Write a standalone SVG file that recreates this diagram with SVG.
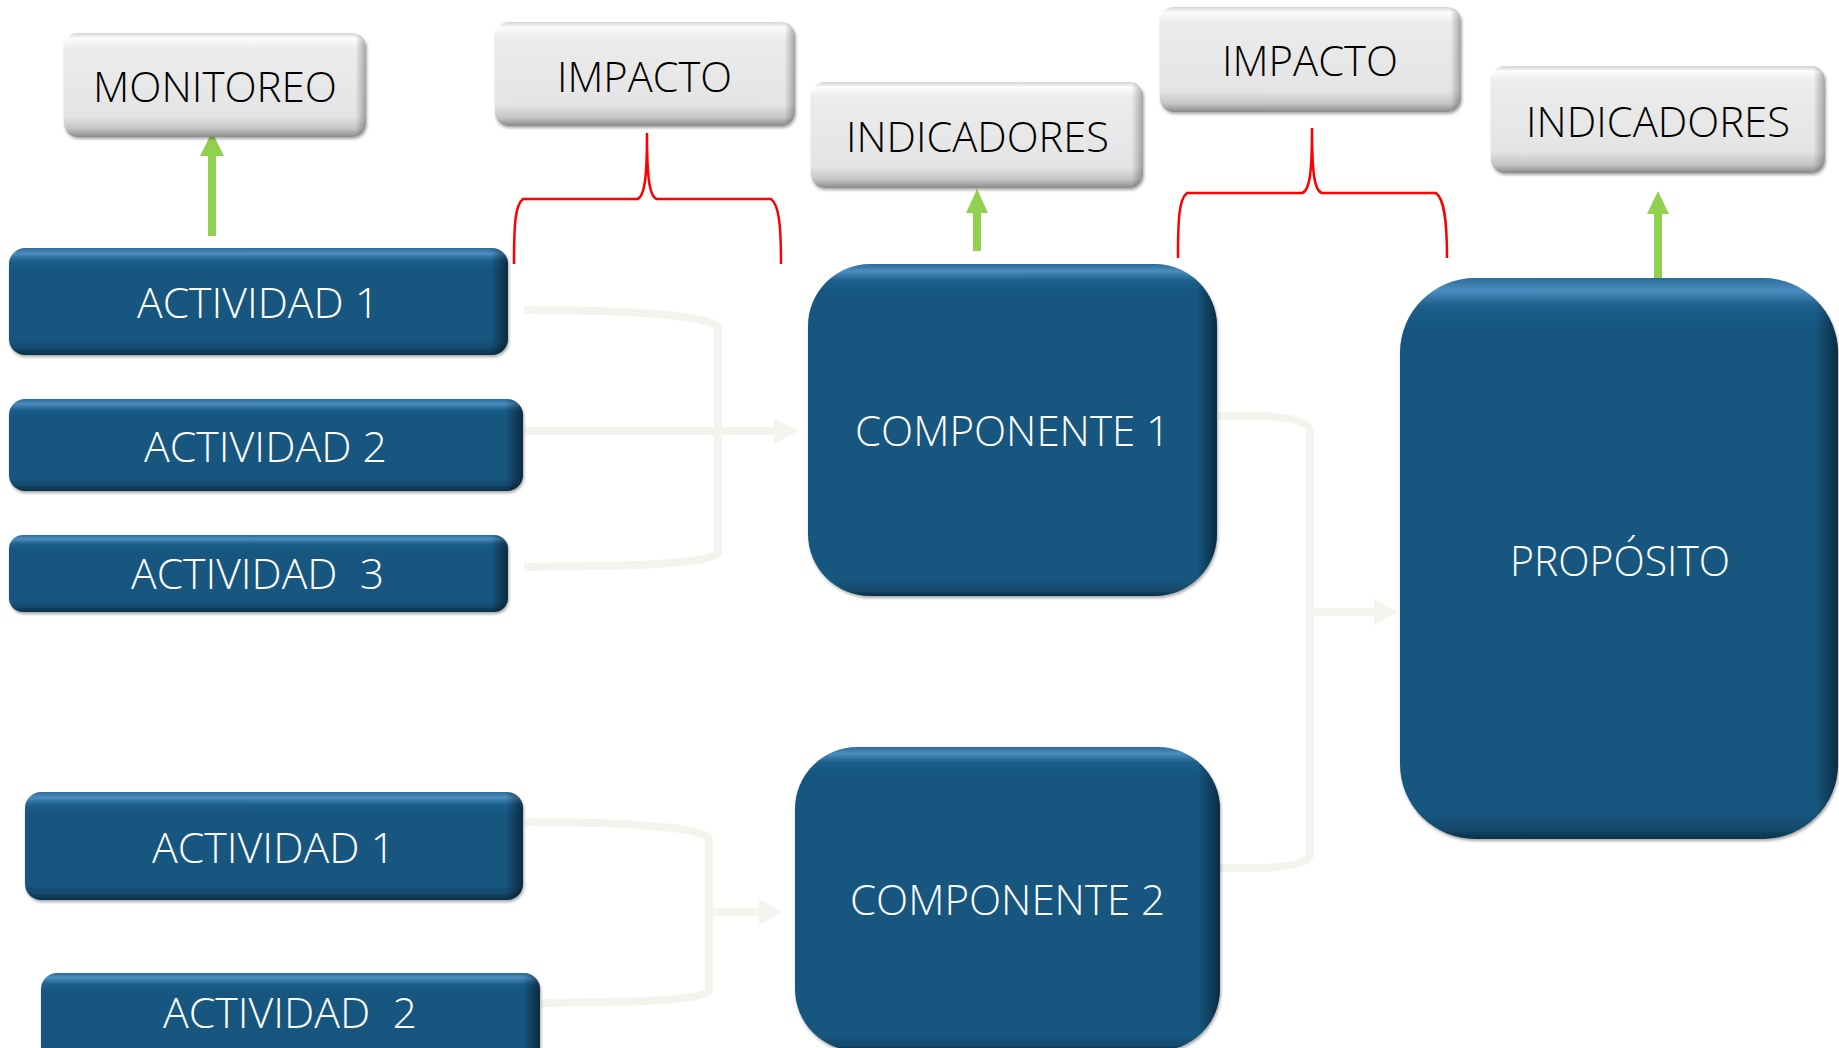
<svg xmlns="http://www.w3.org/2000/svg" width="1839" height="1048" viewBox="0 0 1839 1048">
<defs>
<linearGradient id="gBlue" x1="0" y1="0" x2="0" y2="1">
<stop offset="0" stop-color="#2a6b99"/>
<stop offset="0.05" stop-color="#4d8dbf"/>
<stop offset="0.12" stop-color="#1b5e8b"/>
<stop offset="0.2" stop-color="#16577f"/>
<stop offset="0.86" stop-color="#16577f"/>
<stop offset="0.94" stop-color="#124769"/>
<stop offset="1" stop-color="#0b2f48"/>
</linearGradient>
<linearGradient id="gBlueTall" x1="0" y1="0" x2="0" y2="1">
<stop offset="0" stop-color="#2a6b99"/>
<stop offset="0.022" stop-color="#4d8dbf"/>
<stop offset="0.05" stop-color="#1b5e8b"/>
<stop offset="0.09" stop-color="#16577f"/>
<stop offset="0.95" stop-color="#16577f"/>
<stop offset="0.985" stop-color="#124769"/>
<stop offset="1" stop-color="#0b2f48"/>
</linearGradient>
<linearGradient id="gEdge" x1="0" y1="0" x2="1" y2="0">
<stop offset="0" stop-color="#000" stop-opacity="0"/>
<stop offset="0.965" stop-color="#000" stop-opacity="0"/>
<stop offset="1" stop-color="#000" stop-opacity="0.5"/>
</linearGradient>
<linearGradient id="gEdgeTall" x1="0" y1="0" x2="1" y2="0">
<stop offset="0" stop-color="#000" stop-opacity="0"/>
<stop offset="0.95" stop-color="#000" stop-opacity="0"/>
<stop offset="1" stop-color="#000" stop-opacity="0.5"/>
</linearGradient>
<linearGradient id="gGray" x1="0" y1="0" x2="0" y2="1">
<stop offset="0" stop-color="#d4d4d4"/>
<stop offset="0.05" stop-color="#fcfcfc"/>
<stop offset="0.15" stop-color="#ececec"/>
<stop offset="0.8" stop-color="#e4e4e4"/>
<stop offset="0.92" stop-color="#c4c4c4"/>
<stop offset="1" stop-color="#8a8a8a"/>
</linearGradient>
<filter id="shadow" x="-5%" y="-5%" width="112%" height="115%">
<feDropShadow dx="1" dy="2" stdDeviation="1.5" flood-color="#000" flood-opacity="0.35"/>
</filter>
<style>
.blue{fill:url(#gBlue);filter:url(#shadow)}
.blueTall{fill:url(#gBlueTall);filter:url(#shadow)}
.edge{fill:url(#gEdge)}
.edgeTall{fill:url(#gEdgeTall)}
.gray{fill:url(#gGray);filter:url(#shadow)}
.grayEdge{fill:url(#gEdge);opacity:0.6}
text{font-family:"Open Sans","Liberation Sans",sans-serif;font-size:42px;font-weight:300;text-anchor:middle}
.tw{fill:#ffffff}
.tb{fill:#000000}
.conn{fill:none;stroke:#f4f4ee;stroke-width:8}
.head{fill:#f4f4ee}
.green{fill:none;stroke:#92d050;stroke-width:8}
.ghead{fill:#92d050}
.brace{fill:none;stroke:#ff0000;stroke-width:2.5}
</style>
</defs>
<rect x="0" y="0" width="1839" height="1048" fill="#ffffff"/>

<g id="connectors">
<path class="conn" d="M524,310 L600,311 Q714,315 718,328 L718,552 Q714,564 600,566 L524,567"/>
<path class="conn" d="M524,431 L776,431"/>
<polygon class="head" points="774,418 798,431 774,444"/>
<path class="conn" d="M1218,416 L1260,416 Q1308,418 1310,430 L1310,855 Q1308,866 1260,868 L1220,868"/>
<path class="conn" d="M1310,612 L1376,612"/>
<polygon class="head" points="1374,599 1398,612 1374,625"/>
<path class="conn" d="M526,822 L600,823 Q705,827 709,839 L709,990 Q705,1001 600,1002 L541,1003"/>
<path class="conn" d="M709,912 L761,912"/>
<polygon class="head" points="759,899 782,912 759,925"/>
<path class="green" d="M212,236 L212,154"/>
<polygon class="ghead" points="200,156 212,132 224,156"/>
<path class="green" d="M977,251 L977,211"/>
<polygon class="ghead" points="966,213 977,189 988,213"/>
<path class="green" d="M1658,281 L1658,212"/>
<polygon class="ghead" points="1647,214 1658,191 1669,214"/>
<path class="brace" d="M514,264 C514,225 515,205 523,199 L637,199 C645,197 647,175 647,133 C647,175 649,197 657,199 L771,199 C779,205 781,225 781,264"/>
<path class="brace" d="M1178,258 C1178,219 1179,199 1187,193 L1302,193 C1310,191 1312,170 1312,128 C1312,170 1314,191 1322,193 L1436,193 C1444,199 1447,219 1447,258"/>
</g>

<g id="monitoreo">
<rect class="gray" x="64" y="33" width="302" height="104" rx="14"/>
<rect class="grayEdge" x="64" y="33" width="302" height="104" rx="14"/>
<text class="tb" x="215" y="102" textLength="244" lengthAdjust="spacingAndGlyphs">MONITOREO</text>
</g>
<g id="impacto1">
<rect class="gray" x="495" y="22" width="300" height="104" rx="14"/>
<rect class="grayEdge" x="495" y="22" width="300" height="104" rx="14"/>
<text class="tb" x="644.5" y="92" textLength="175" lengthAdjust="spacingAndGlyphs">IMPACTO</text>
</g>
<g id="indicadores1">
<rect class="gray" x="811" y="82" width="332" height="106" rx="14"/>
<rect class="grayEdge" x="811" y="82" width="332" height="106" rx="14"/>
<text class="tb" x="977.5" y="152" textLength="263" lengthAdjust="spacingAndGlyphs">INDICADORES</text>
</g>
<g id="impacto2">
<rect class="gray" x="1160" y="7" width="301" height="105" rx="14"/>
<rect class="grayEdge" x="1160" y="7" width="301" height="105" rx="14"/>
<text class="tb" x="1310" y="76" textLength="176" lengthAdjust="spacingAndGlyphs">IMPACTO</text>
</g>
<g id="indicadores2">
<rect class="gray" x="1491" y="66" width="334" height="107" rx="14"/>
<rect class="grayEdge" x="1491" y="66" width="334" height="107" rx="14"/>
<text class="tb" x="1658" y="137" textLength="264" lengthAdjust="spacingAndGlyphs">INDICADORES</text>
</g>

<g id="actividad1a">
<rect class="blue" x="9" y="248" width="499" height="107" rx="16"/>
<rect class="edge" x="9" y="248" width="499" height="107" rx="16"/>
<text class="tw" x="258" y="318" textLength="242" lengthAdjust="spacingAndGlyphs">ACTIVIDAD 1</text>
</g>
<g id="actividad2a">
<rect class="blue" x="9" y="399" width="514" height="92" rx="16"/>
<rect class="edge" x="9" y="399" width="514" height="92" rx="16"/>
<text class="tw" x="265.5" y="462" textLength="243" lengthAdjust="spacingAndGlyphs">ACTIVIDAD 2</text>
</g>
<g id="actividad3a">
<rect class="blue" x="9" y="535" width="499" height="77" rx="14"/>
<rect class="edge" x="9" y="535" width="499" height="77" rx="14"/>
<text class="tw" x="257.5" y="589" textLength="253" lengthAdjust="spacingAndGlyphs" xml:space="preserve">ACTIVIDAD  3</text>
</g>
<g id="actividad1b">
<rect class="blue" x="25" y="792" width="498" height="108" rx="16"/>
<rect class="edge" x="25" y="792" width="498" height="108" rx="16"/>
<text class="tw" x="273.5" y="863" textLength="243" lengthAdjust="spacingAndGlyphs">ACTIVIDAD 1</text>
</g>
<g id="actividad2b">
<rect class="blue" x="41" y="973" width="499" height="95" rx="16"/>
<rect class="edge" x="41" y="973" width="499" height="95" rx="16"/>
<text class="tw" x="290" y="1028" textLength="254" lengthAdjust="spacingAndGlyphs" xml:space="preserve">ACTIVIDAD  2</text>
</g>

<g id="componente1">
<rect class="blueTall" x="808" y="264" width="409" height="332" rx="62"/>
<rect class="edgeTall" x="808" y="264" width="409" height="332" rx="62"/>
<text class="tw" x="1012.5" y="446" textLength="315" lengthAdjust="spacingAndGlyphs">COMPONENTE 1</text>
</g>
<g id="componente2">
<rect class="blueTall" x="795" y="747" width="425" height="304" rx="62"/>
<rect class="edgeTall" x="795" y="747" width="425" height="304" rx="62"/>
<text class="tw" x="1007.5" y="915" textLength="315" lengthAdjust="spacingAndGlyphs">COMPONENTE 2</text>
</g>
<g id="proposito">
<rect class="blueTall" x="1400" y="278" width="438" height="561" rx="75"/>
<rect class="edgeTall" x="1400" y="278" width="438" height="561" rx="75"/>
<text class="tw" x="1620" y="576" textLength="220" lengthAdjust="spacingAndGlyphs">PROPÓSITO</text>
</g>
</svg>
